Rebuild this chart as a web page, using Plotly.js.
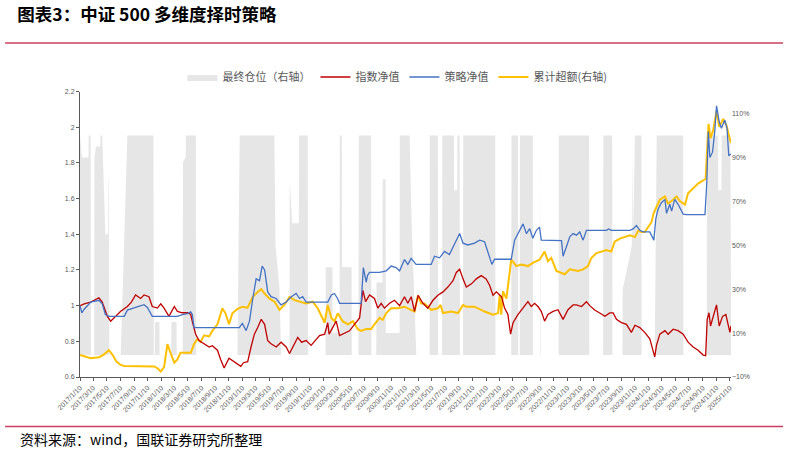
<!DOCTYPE html>
<html>
<head>
<meta charset="utf-8">
<script src="https://cdn.plot.ly/plotly-3.0.1.min.js"></script>
<style>
  html, body { margin: 0; padding: 0; background: #fff; }
  #chart { width: 787px; height: 452px; }
</style>
</head>
<body>
<div id="chart"></div>
<script>
// 最终仓位（右轴）
const posDates = ['2017-01-10','2017-01-19','2017-02-17','2017-02-18','2017-02-27','2017-02-28','2017-03-15','2017-03-16','2017-03-23','2017-04-11','2017-04-12','2017-04-20','2017-05-04','2017-05-16','2017-05-17','2017-05-19','2017-05-22','2017-07-12','2017-08-11','2017-12-06','2017-12-08','2017-12-12','2017-12-13','2018-01-02','2018-01-03','2018-02-24','2018-02-25','2018-03-20','2018-03-21','2018-04-17','2018-04-18','2018-04-30','2018-05-01','2018-06-15','2018-06-16','2018-12-19','2018-12-29','2019-06-03','2019-06-08','2019-06-26','2019-07-03','2019-08-10','2019-08-11','2019-08-22','2019-09-21','2019-09-22','2019-10-31','2019-11-01','2020-01-19','2020-01-20','2020-02-19','2020-02-20','2020-03-22','2020-03-23','2020-04-01','2020-04-02','2020-05-15','2020-05-16','2020-06-15','2020-06-17','2020-08-11','2020-08-12','2020-09-03','2020-09-04','2020-10-01','2020-10-02','2020-10-15','2020-10-16','2020-12-17','2020-12-18','2021-01-31','2021-02-09','2021-03-02','2021-05-01','2021-05-02','2021-06-07','2021-06-08','2021-06-26','2021-06-27','2021-08-18','2021-08-19','2021-09-02','2021-09-03','2021-09-13','2021-09-14','2021-09-28','2021-09-29','2022-02-20','2022-02-21','2022-05-03','2022-05-04','2022-06-02','2022-06-03','2022-06-10','2022-06-11','2022-08-08','2022-08-09','2022-09-09','2022-09-10','2022-09-12','2022-12-02','2022-12-03','2023-04-18','2023-04-19','2023-06-20','2023-06-21','2023-07-31','2023-08-01','2023-09-15','2023-09-16','2023-10-18','2023-10-27','2023-10-29','2023-11-01','2023-11-10','2023-12-09','2023-12-10','2024-02-07','2024-02-16','2024-06-14','2024-06-15','2024-09-28','2024-09-29','2024-11-17','2024-11-19','2024-12-03','2024-12-04','2025-01-12','2025-01-15'];
const posValues = [1,0.9,0.9,1,1,0,0,0.9,0.95,0.95,1,1,0.55,0.55,0.8,0.8,0,0,1,1,0,0,0.15,0.15,0,0,0.15,0.15,0,0,0.88,0.9,1,1,0,0,1,1,0.5,0.3,0,0,0.8,0.6,0.6,1,1,0,0,0.4,0.4,0.1,0.1,1,1,0.4,0.4,0,0,1,1,0,0,0.33,0.33,0.8,0.8,0.1,0.1,1,1,0.6,0,0,1,1,0,0,1,1,0.75,0.75,1,1,0,0,1,1,0,0,1,1,0,0,1,1,0,0,0.9,0,0,1,1,0,0,1,1,0,0,0.3,0.45,0.5,0.95,0.5,1,1,0,0,1,1,0,0,1,1,0.75,0.75,1,1,0.25];

// 指数净值
const indexDates = ['2017-01-10','2017-01-29','2017-02-27','2017-03-15','2017-04-05','2017-04-20','2017-05-13','2017-05-28','2017-06-12','2017-07-12','2017-08-11','2017-08-29','2017-09-17','2017-10-10','2017-10-25','2017-11-16','2017-12-01','2017-12-24','2018-01-08','2018-01-23','2018-02-14','2018-03-10','2018-03-24','2018-04-15','2018-05-08','2018-05-23','2018-05-30','2018-06-14','2018-06-29','2018-07-22','2018-08-14','2018-08-28','2018-09-20','2018-10-04','2018-10-20','2018-11-11','2018-12-04','2019-01-03','2019-01-15','2019-02-03','2019-02-18','2019-03-05','2019-03-20','2019-04-05','2019-04-20','2019-05-04','2019-05-19','2019-06-11','2019-07-03','2019-07-26','2019-08-10','2019-08-25','2019-09-16','2019-10-03','2019-10-24','2019-11-15','2019-11-30','2019-12-23','2020-01-15','2020-01-29','2020-02-04','2020-02-28','2020-03-07','2020-03-22','2020-04-05','2020-05-06','2020-05-28','2020-06-20','2020-07-05','2020-07-17','2020-08-04','2020-08-26','2020-09-10','2020-09-25','2020-10-10','2020-11-02','2020-11-24','2020-12-17','2021-01-08','2021-01-23','2021-02-07','2021-02-22','2021-03-10','2021-04-01','2021-04-23','2021-05-16','2021-06-07','2021-06-30','2021-07-22','2021-08-14','2021-08-29','2021-09-13','2021-09-28','2021-10-13','2021-11-05','2021-11-27','2021-12-19','2022-01-10','2022-01-26','2022-02-10','2022-02-25','2022-03-12','2022-03-20','2022-04-03','2022-04-18','2022-04-30','2022-05-11','2022-06-02','2022-06-25','2022-07-17','2022-08-01','2022-08-16','2022-08-31','2022-09-15','2022-09-30','2022-10-15','2022-11-07','2022-11-29','2022-12-22','2023-01-13','2023-02-05','2023-02-20','2023-03-15','2023-04-06','2023-04-21','2023-05-13','2023-06-05','2023-06-28','2023-07-20','2023-08-04','2023-08-19','2023-09-10','2023-10-03','2023-10-25','2023-11-10','2023-12-02','2023-12-24','2024-01-16','2024-01-28','2024-02-07','2024-02-15','2024-03-01','2024-03-24','2024-04-07','2024-04-30','2024-05-22','2024-06-14','2024-07-06','2024-07-29','2024-08-20','2024-09-12','2024-09-23','2024-09-30','2024-10-08','2024-10-15','2024-10-27','2024-11-11','2024-11-23','2024-12-08','2024-12-23','2025-01-04','2025-01-10','2025-01-15'];
const indexValues = [1.0,1.01,1.02,1.03,1.044,1.02,0.94,0.913,0.93,0.968,0.995,1.02,1.06,1.04,1.06,1.05,0.995,0.986,1.01,0.986,0.94,0.995,0.968,0.96,0.96,0.95,0.91,0.84,0.804,0.786,0.768,0.775,0.75,0.70,0.65,0.705,0.686,0.66,0.68,0.686,0.768,0.84,0.877,0.923,0.895,0.804,0.786,0.768,0.795,0.768,0.732,0.768,0.822,0.795,0.804,0.777,0.80,0.832,0.84,0.904,0.84,0.895,0.913,0.832,0.84,0.859,0.895,0.931,1.086,1.022,1.06,1.04,0.986,1.013,0.986,1.013,1.03,1.0,1.05,1.013,1.05,0.968,1.058,1.013,0.986,1.03,1.058,1.077,1.104,1.14,1.186,1.204,1.15,1.104,1.122,1.15,1.168,1.15,1.113,1.058,1.077,1.06,1.05,0.986,0.95,0.84,0.904,0.95,0.986,1.022,0.995,1.013,0.995,0.968,0.913,0.95,0.968,0.977,0.923,0.977,1.004,1.004,0.995,1.022,1.0,0.975,0.959,0.94,0.959,0.959,0.923,0.905,0.895,0.85,0.89,0.877,0.85,0.814,0.759,0.713,0.777,0.84,0.86,0.84,0.868,0.86,0.84,0.795,0.768,0.75,0.723,0.72,0.923,0.96,0.886,0.94,1.004,0.886,0.94,0.95,0.877,0.85,0.886];

// 策略净值
const stratDates = ['2017-01-10','2017-01-18','2017-01-29','2017-02-12','2017-02-27','2017-04-05','2017-04-20','2017-05-04','2017-05-20','2017-07-28','2017-08-11','2017-09-17','2017-10-10','2017-10-25','2017-11-09','2017-11-23','2017-12-01','2018-03-24','2018-04-15','2018-05-08','2018-05-23','2018-05-30','2018-06-07','2018-12-27','2019-01-10','2019-01-27','2019-02-11','2019-02-26','2019-03-13','2019-03-28','2019-04-09','2019-04-20','2019-05-04','2019-05-19','2019-06-11','2019-07-03','2019-07-26','2019-08-18','2019-09-09','2019-09-24','2019-10-08','2019-10-24','2020-01-29','2020-02-14','2020-02-28','2020-03-13','2020-03-22','2020-06-27','2020-07-07','2020-07-20','2020-07-26','2020-08-04','2020-09-18','2020-10-18','2020-11-09','2020-12-01','2020-12-17','2021-01-08','2021-01-23','2021-02-07','2021-02-22','2021-03-01','2021-05-08','2021-05-23','2021-06-15','2021-07-07','2021-07-29','2021-08-21','2021-09-13','2021-09-28','2021-10-20','2021-11-19','2021-12-12','2022-01-03','2022-01-26','2022-02-05','2022-02-17','2022-05-03','2022-05-18','2022-06-10','2022-06-25','2022-07-10','2022-07-25','2022-08-08','2022-08-24','2022-09-07','2022-09-15','2022-12-15','2022-12-22','2023-01-06','2023-01-21','2023-02-05','2023-02-20','2023-03-07','2023-03-22','2023-04-06','2023-07-05','2023-07-15','2023-07-27','2023-10-18','2023-11-02','2023-11-17','2023-12-02','2023-12-17','2024-01-16','2024-02-03','2024-02-12','2024-02-22','2024-03-08','2024-03-24','2024-03-31','2024-04-15','2024-04-23','2024-05-07','2024-05-22','2024-06-14','2024-06-29','2024-09-20','2024-09-28','2024-10-05','2024-10-12','2024-10-24','2024-11-03','2024-11-11','2024-11-23','2024-12-03','2024-12-18','2024-12-28','2025-01-05','2025-01-15'];
const stratValues = [1.0,0.96,0.98,1.0,1.02,1.03,1.01,0.95,0.94,0.94,0.975,0.99,1.0,1.005,0.99,0.96,0.94,0.94,0.95,0.955,0.965,0.95,0.877,0.877,0.9,0.86,0.913,1.04,1.15,1.14,1.222,1.2,1.077,1.05,1.04,1.004,1.02,1.05,1.068,1.04,1.05,1.02,1.02,1.06,1.068,1.04,1.013,1.013,1.213,1.131,1.17,1.186,1.186,1.195,1.222,1.213,1.195,1.258,1.231,1.265,1.24,1.231,1.231,1.277,1.268,1.304,1.286,1.35,1.404,1.35,1.34,1.35,1.367,1.358,1.277,1.231,1.26,1.26,1.367,1.422,1.458,1.404,1.431,1.377,1.422,1.44,1.367,1.364,1.277,1.33,1.386,1.404,1.395,1.413,1.367,1.422,1.422,1.43,1.422,1.422,1.43,1.449,1.422,1.413,1.413,1.367,1.486,1.54,1.577,1.595,1.518,1.568,1.53,1.595,1.568,1.513,1.51,1.51,1.686,1.976,1.83,1.86,1.976,2.12,2.03,1.994,2.04,1.994,1.84,1.85];

// 累计超额（右轴）
const excessDates = ['2017-01-10','2017-02-12','2017-02-27','2017-04-05','2017-04-24','2017-05-20','2017-06-06','2017-06-23','2017-07-12','2017-07-28','2017-11-18','2017-12-10','2017-12-24','2018-01-08','2018-01-23','2018-01-30','2018-02-07','2018-02-22','2018-03-10','2018-03-24','2018-04-07','2018-05-23','2018-06-07','2018-06-22','2018-07-06','2018-07-22','2018-08-14','2018-08-28','2018-09-20','2018-10-12','2018-10-26','2018-11-11','2018-11-26','2018-12-19','2019-01-10','2019-02-02','2019-02-26','2019-03-20','2019-04-05','2019-04-20','2019-05-12','2019-06-04','2019-06-26','2019-07-18','2019-08-10','2019-09-01','2019-09-24','2019-10-24','2019-11-22','2019-12-15','2020-01-15','2020-01-29','2020-02-14','2020-02-28','2020-03-14','2020-04-05','2020-04-29','2020-05-21','2020-06-12','2020-06-27','2020-07-20','2020-08-11','2020-08-26','2020-09-18','2020-10-02','2020-10-18','2020-11-09','2020-12-08','2021-01-08','2021-02-07','2021-02-22','2021-03-10','2021-03-24','2021-04-08','2021-05-08','2021-06-07','2021-06-19','2021-06-30','2021-08-06','2021-09-06','2021-09-28','2021-10-13','2021-11-19','2022-01-03','2022-02-10','2022-03-05','2022-03-12','2022-03-19','2022-03-27','2022-04-11','2022-04-26','2022-05-03','2022-05-26','2022-06-17','2022-07-17','2022-08-08','2022-09-07','2022-09-30','2022-10-15','2022-10-30','2022-11-22','2022-12-15','2022-12-29','2023-01-21','2023-02-27','2023-03-22','2023-04-13','2023-04-28','2023-05-21','2023-06-12','2023-07-05','2023-07-27','2023-08-11','2023-09-03','2023-09-25','2023-10-18','2023-11-10','2023-11-25','2023-12-09','2023-12-24','2024-01-08','2024-01-23','2024-02-03','2024-02-15','2024-03-01','2024-03-24','2024-04-07','2024-04-30','2024-05-15','2024-05-31','2024-06-22','2024-07-06','2024-07-29','2024-08-20','2024-09-12','2024-09-23','2024-09-30','2024-10-06','2024-10-15','2024-10-27','2024-11-11','2024-11-23','2024-12-11','2024-12-26','2025-01-05','2025-01-15'];
const excessValues = [0.0,-0.008,-0.015,-0.01,0.0,0.022,0.0,-0.03,-0.045,-0.05,-0.05,-0.052,-0.06,-0.075,-0.055,-0.008,0.05,0.007,-0.035,-0.02,0.01,0.01,0.05,0.073,0.06,0.09,0.085,0.11,0.14,0.213,0.19,0.14,0.19,0.21,0.22,0.215,0.265,0.287,0.30,0.28,0.257,0.243,0.206,0.228,0.265,0.25,0.243,0.235,0.243,0.213,0.147,0.228,0.169,0.154,0.19,0.154,0.14,0.154,0.118,0.11,0.118,0.118,0.14,0.169,0.16,0.191,0.213,0.213,0.22,0.206,0.198,0.272,0.235,0.235,0.206,0.213,0.228,0.191,0.198,0.191,0.228,0.22,0.22,0.198,0.184,0.191,0.272,0.184,0.29,0.257,0.375,0.434,0.405,0.412,0.405,0.42,0.434,0.471,0.427,0.442,0.383,0.375,0.368,0.39,0.383,0.39,0.405,0.442,0.464,0.471,0.478,0.471,0.516,0.53,0.537,0.545,0.537,0.567,0.56,0.56,0.582,0.604,0.648,0.672,0.707,0.722,0.69,0.707,0.722,0.70,0.685,0.737,0.759,0.781,0.795,0.803,0.943,1.053,0.987,1.024,1.112,1.039,1.075,1.045,1.002,0.965];

const tickColor = '#595959';
const tickFont = { family: 'Liberation Sans, Arial, sans-serif', size: 7, color: tickColor };

// 右轴 (y) 在底层，净值左轴 (y2) 叠在上面，这样灰色仓位在线条后面
const traces = [
  {
    x: posDates, y: posValues, yaxis: 'y',
    type: 'scatter', mode: 'lines',
    line: { width: 0, shape: 'linear' },
    fill: 'tozeroy', fillcolor: '#e6e6e6',
    name: '最终仓位（右轴）'
  },
  {
    x: indexDates, y: indexValues, yaxis: 'y2',
    type: 'scatter', mode: 'lines',
    line: { color: '#c00000', width: 1.3 },
    name: '指数净值'
  },
  {
    x: stratDates, y: stratValues, yaxis: 'y2',
    type: 'scatter', mode: 'lines',
    line: { color: '#4472c4', width: 1.3 },
    name: '策略净值'
  },
  {
    x: excessDates, y: excessValues, yaxis: 'y',
    type: 'scatter', mode: 'lines',
    line: { color: '#ffc000', width: 2 },
    name: '累计超额(右轴)'
  }
];

const layout = {
  width: 787, height: 452,
  margin: { l: 80, r: 56, t: 83, b: 75 },
  paper_bgcolor: '#ffffff', plot_bgcolor: '#ffffff',
  font: { family: 'Noto Sans CJK SC, sans-serif', color: '#595959' },
  title: {
    text: '<b>图表3：中证 500 多维度择时策略</b>',
    xref: 'container', x: 0.022, xanchor: 'left',
    yref: 'container', y: 0.966, yanchor: 'middle',
    font: { family: 'Noto Sans CJK SC, sans-serif', size: 17.5, color: '#000000' }
  },
  showlegend: true,
  legend: {
    orientation: 'h',
    xref: 'container', x: 0.505, xanchor: 'center',
    yref: 'container', y: 1 - 77 / 452, yanchor: 'middle',
    font: { family: 'Noto Sans CJK SC, sans-serif', size: 11, color: '#595959' },
    itemwidth: 30,
    traceorder: 'normal'
  },
  xaxis: {
    type: 'date',
    range: ['2017-01-10', '2025-01-15'],
    tick0: '2017-01-10', dtick: 'M2',
    tickformat: '%Y/%-m/%-d',
    tickangle: -45,
    tickfont: tickFont,
    ticks: 'outside', ticklen: 3, tickcolor: tickColor,
    showline: true, linecolor: tickColor, linewidth: 1,
    showgrid: false, zeroline: false
  },
  yaxis: {
    side: 'right',
    range: [-0.1, 1.2], tick0: -0.1, dtick: 0.2,
    tickformat: '.0%',
    tickfont: tickFont,
    ticks: '', showline: false,
    showgrid: false, zeroline: false
  },
  yaxis2: {
    overlaying: 'y', side: 'left',
    range: [0.6, 2.2], dtick: 0.2, tick0: 0.6,
    tickfont: tickFont,
    ticks: 'outside', ticklen: 3, tickcolor: tickColor,
    showline: true, linecolor: tickColor, linewidth: 1,
    showgrid: false, zeroline: false
  },
  shapes: [
    { type: 'line', xref: 'paper', yref: 'paper', x0: -0.115, x1: 1.08, y0: 1.17, y1: 1.17,
      line: { color: '#c9405e', width: 1.5 } },
    { type: 'line', xref: 'paper', yref: 'paper', x0: -0.115, x1: 1.08, y0: -0.1735, y1: -0.1735,
      line: { color: '#c9405e', width: 1.5 } }
  ],
  annotations: [
    { text: '资料来源：wind，国联证券研究所整理', xref: 'paper', yref: 'paper',
      x: -0.095, y: -0.216, xanchor: 'left', yanchor: 'middle', showarrow: false,
      font: { family: 'Noto Sans CJK SC, sans-serif', size: 14, color: '#000000' } }
  ]
};

Plotly.newPlot('chart', traces, layout, { displayModeBar: false, staticPlot: true });
</script>
</body>
</html>
